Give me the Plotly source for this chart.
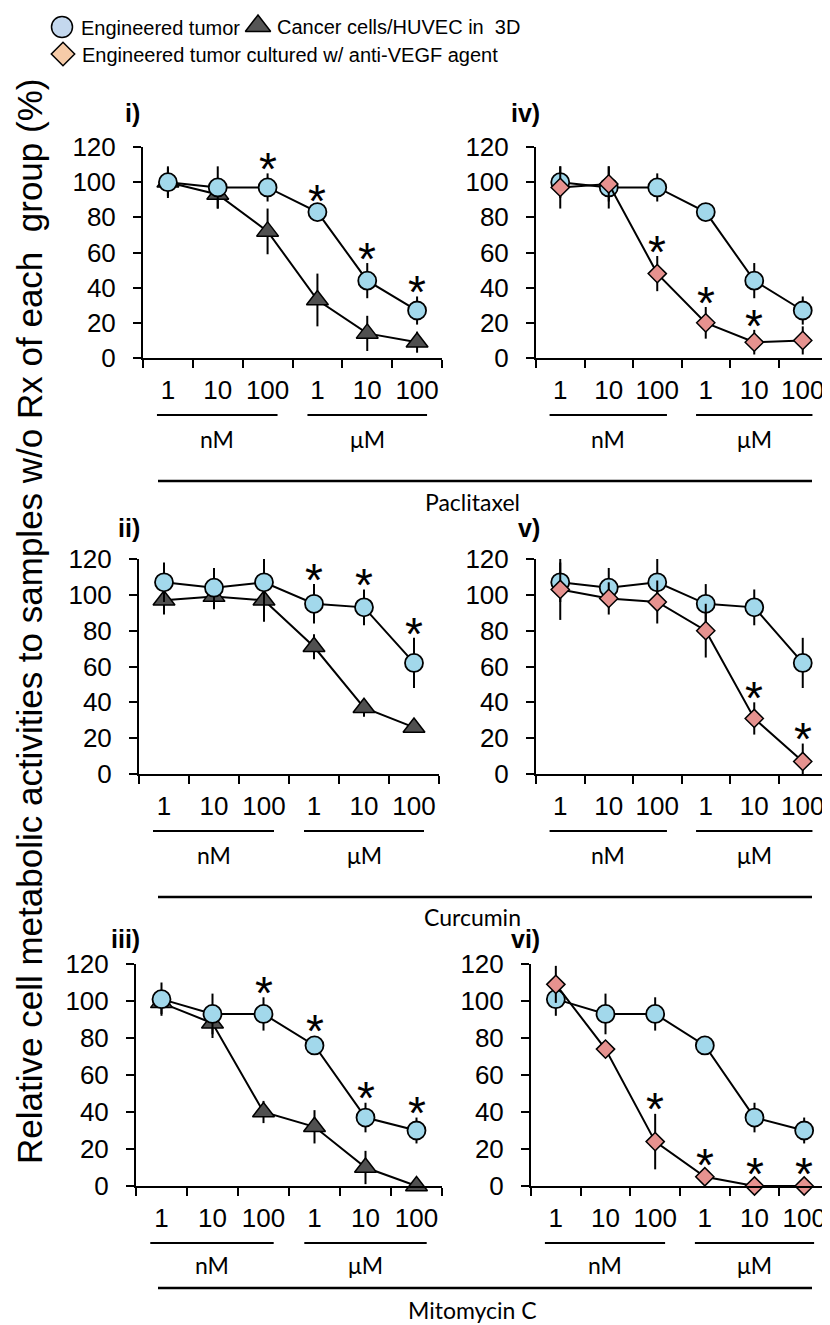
import plotly.graph_objects as go

W, H = 830, 1325
OFF = 8  # page body margin of the html file

doses = ["1", "10", "100", "1", "10", "100"]
dose_pos = [0, 1, 2, 3, 4, 5]
units = ["nM", "μM"]
drugs = ["Paclitaxel", "Curcumin", "Mitomycin C"]
panel_names = ["i)", "iv)", "ii)", "v)", "iii)", "vi)"]

# Engineered tumor (circles) - same values appear in both panels of a row
tumor_pac = [100, 97, 97, 83, 44, 27]
tumor_pac_err = [9, 12, 8, 4, 10, 8]
tumor_cur = [107, 104, 107, 95, 93, 62]
tumor_cur_err = [11, 11, 13, 11, 10, 14]
tumor_mmc = [101, 93, 93, 76, 37, 30]
tumor_mmc_err = [9, 11, 9, 5, 8, 7]

# Cancer cells/HUVEC in 3D (triangles)
cells_pac = [100, 93, 72, 33, 14, 9]
cells_pac_err = [8, 8, 13, 15, 10, 6]
cells_cur = [97, 99, 97, 71, 37, 26]
cells_cur_err = [8, 7, 12, 7, 5, 3]
cells_mmc = [99, 88, 40, 32, 10, 0]
cells_mmc_err = [6, 8, 6, 9, 9, 0]

# Engineered tumor cultured w/ anti-VEGF agent (diamonds)
vegf_pac = [97, 99, 48, 20, 9, 10]
vegf_pac_err = [12, 10, 10, 9, 7, 8]
vegf_cur = [103, 98, 96, 80, 31, 7]
vegf_cur_err = [17, 9, 12, 15, 9, 10]
vegf_mmc = [109, 74, 24, 5, 0, 0]
vegf_mmc_err = [10, 3, 15, 2, 0, 0]

# significance marks (index of dose)
stars_i = [2, 3, 4, 5]
stars_iv = [2, 3, 4]
stars_ii = [3, 4, 5]
stars_v = [4, 5]
stars_iii = [2, 3, 4, 5]
stars_vi = [2, 3, 4, 5]

BLUE = "#a2d8eb"
GREY = "#505050"
PINK = "#e6928f"
FONT = "Liberation Sans, Arial, sans-serif"
CAL = "Lato, Carlito, sans-serif"

circle = dict(symbol="circle", size=18, color=BLUE, line=dict(color="black", width=1.8))
triangle = dict(symbol="triangle-up", size=19, color=GREY, line=dict(color="black", width=1.5))
diamond = dict(symbol="diamond", size=14, color=PINK, line=dict(color="black", width=1.5))


def fx(x):
    return (x - OFF) / W


def fy(y):
    return 1 - (y - OFF) / H


# panel boxes (page pixels): x-extent per panel, y-extent per row
panel_x = [(143, 442), (536, 827), (139, 439), (536, 827), (136, 442), (531, 829)]
rows = [(147, 358), (559, 774), (964, 1186)]
label_y = [113, 528, 939]
# offsets below the x axis: bracket line, unit text, long line, drug text
row_offs = [(57, 81, 123, 144), (57, 81, 123, 143), (57, 79, 102, 124)]

panels = [
    (0, 0, [(cells_pac, cells_pac_err, triangle), (tumor_pac, tumor_pac_err, circle)], (tumor_pac, tumor_pac_err, stars_i)),
    (0, 1, [(tumor_pac, tumor_pac_err, circle), (vegf_pac, vegf_pac_err, diamond)], (vegf_pac, vegf_pac_err, stars_iv)),
    (1, 0, [(cells_cur, cells_cur_err, triangle), (tumor_cur, tumor_cur_err, circle)], (tumor_cur, tumor_cur_err, stars_ii)),
    (1, 1, [(tumor_cur, tumor_cur_err, circle), (vegf_cur, vegf_cur_err, diamond)], (vegf_cur, vegf_cur_err, stars_v)),
    (2, 0, [(cells_mmc, cells_mmc_err, triangle), (tumor_mmc, tumor_mmc_err, circle)], (tumor_mmc, tumor_mmc_err, stars_iii)),
    (2, 1, [(tumor_mmc, tumor_mmc_err, circle), (vegf_mmc, vegf_mmc_err, diamond)], (vegf_mmc, vegf_mmc_err, stars_vi)),
]

fig = go.Figure()
layout = {}
annotations = []
shapes = []

for k, (r, c, series, stars) in enumerate(panels):
    n = k + 1
    sfx = "" if n == 1 else str(n)
    xa, ya = "x" + sfx, "y" + sfx
    x0, x1 = panel_x[k]
    top, bot = rows[r]
    for vals, errs, mk in series:
        fig.add_trace(go.Scatter(
            x=dose_pos, y=vals, mode="lines+markers",
            error_y=dict(type="data", array=errs, visible=True, color="black", thickness=2, width=0),
            line=dict(color="black", width=2), marker=mk,
            xaxis=xa, yaxis=ya, showlegend=False, cliponaxis=False,
        ))
    layout["xaxis" + sfx] = dict(
        domain=[fx(x0), fx(x1)], anchor=ya, range=[-0.5, 5.5], automargin=False,
        showline=True, linecolor="black", linewidth=2, showgrid=False, zeroline=False,
        tickmode="array", tickvals=dose_pos, ticktext=doses, ticks="",
        tickfont=dict(family=FONT, size=26, color="black"), ticklabelstandoff=8,
        minor=dict(tickmode="array", tickvals=[i - 0.5 for i in range(7)], ticks="outside",
                   ticklen=8, tickwidth=2, tickcolor="black", showgrid=False),
    )
    layout["yaxis" + sfx] = dict(
        domain=[fy(bot), fy(top)], anchor=xa, range=[0, 120], automargin=False,
        tickmode="linear", tick0=0, dtick=20, ticks="outside", ticklen=8, tickwidth=2, tickcolor="black",
        showline=True, linecolor="black", linewidth=2, showgrid=False, zeroline=False,
        tickfont=dict(family=FONT, size=26, color="black"), ticklabelstandoff=12,
    )
    # significance asterisks
    vals, errs, idx = stars
    for i in idx:
        annotations.append(dict(
            x=dose_pos[i], y=max(vals[i] + errs[i], vals[i] + 4) + 8, xref=xa, yref=ya,
            text="*", showarrow=False, yanchor="middle", yshift=-10,
            font=dict(family=FONT, size=46, color="black"),
        ))
    # panel label
    annotations.append(dict(
        x=fx(142 if c == 0 else 542), y=fy(label_y[r]), xref="paper", yref="paper",
        xanchor="right", yanchor="middle",
        text="<b>" + panel_names[k] + "</b>", showarrow=False, font=dict(family=FONT, size=25, color="black"),
    ))
    # unit brackets
    o_line, o_text, _, _ = row_offs[r]
    for u, (a, b) in zip(units, [(-0.22, 2.2), (2.8, 5.2)]):
        shapes.append(dict(type="line", xref=xa, yref="paper", x0=a, x1=b,
                           y0=fy(bot + o_line), y1=fy(bot + o_line),
                           line=dict(color="black", width=2)))
        annotations.append(dict(x=(a + b) / 2, y=fy(bot + o_text), xref=xa, yref="paper",
                                text=u, showarrow=False, xanchor="center", yanchor="middle",
                                font=dict(family=CAL, size=23, color="black")))

for r, drug in enumerate(drugs):
    bot = rows[r][1]
    _, _, o_long, o_drug = row_offs[r]
    shapes.append(dict(type="line", xref="paper", yref="paper", x0=fx(158), x1=fx(812),
                       y0=fy(bot + o_long), y1=fy(bot + o_long),
                       line=dict(color="black", width=2.5)))
    annotations.append(dict(x=fx(472), y=fy(bot + o_drug), xref="paper", yref="paper",
                            text=drug, showarrow=False, xanchor="center", yanchor="middle",
                            font=dict(family=CAL, size=23, color="black")))

# y title
annotations.append(dict(
    x=fx(29), y=fy(622), xref="paper", yref="paper", textangle=-90, showarrow=False,
    xanchor="center", yanchor="middle",
    text="Relative cell metabolic activities to samples w/o Rx of each\u00a0 group (%)",
    font=dict(family=FONT, size=35, color="black"),
))

# legend drawn on a hidden full-page axis (page pixels)
legend_items = [
    ("Engineered tumor", "circle", 21, "#c4d8ee", 62, 27),
    ("Cancer cells/HUVEC in\u00a0 3D", "triangle-up", 22, "#555555", 258, 26),
    ("Engineered tumor cultured w/ anti-VEGF agent", "diamond", 18, "#f6cba8", 63, 54),
]
for name, sym, size, col, lx, ly in legend_items:
    fig.add_trace(go.Scatter(
        x=[lx], y=[ly], mode="markers", xaxis="x7", yaxis="y7", showlegend=False, cliponaxis=False,
        marker=dict(symbol=sym, size=size, color=col, line=dict(color="black", width=1.5)),
    ))
    annotations.append(dict(x=lx + 17, y=ly + 1, xref="x7", yref="y7", xanchor="left", yanchor="middle",
                            text=name, showarrow=False, font=dict(family=FONT, size=20, color="black")))
layout["xaxis7"] = dict(domain=[0, 1], range=[OFF, W + OFF], visible=False, anchor="y7", automargin=False)
layout["yaxis7"] = dict(domain=[0, 1], range=[H + OFF, OFF], visible=False, anchor="x7", automargin=False)

fig.update_layout(
    **layout,
    width=W, height=H,
    margin=dict(l=0, r=0, t=0, b=0, pad=0),
    plot_bgcolor="rgba(0,0,0,0)", paper_bgcolor="white",
    showlegend=False,
    annotations=annotations,
    shapes=shapes,
)

fig.write_html("out.html")
